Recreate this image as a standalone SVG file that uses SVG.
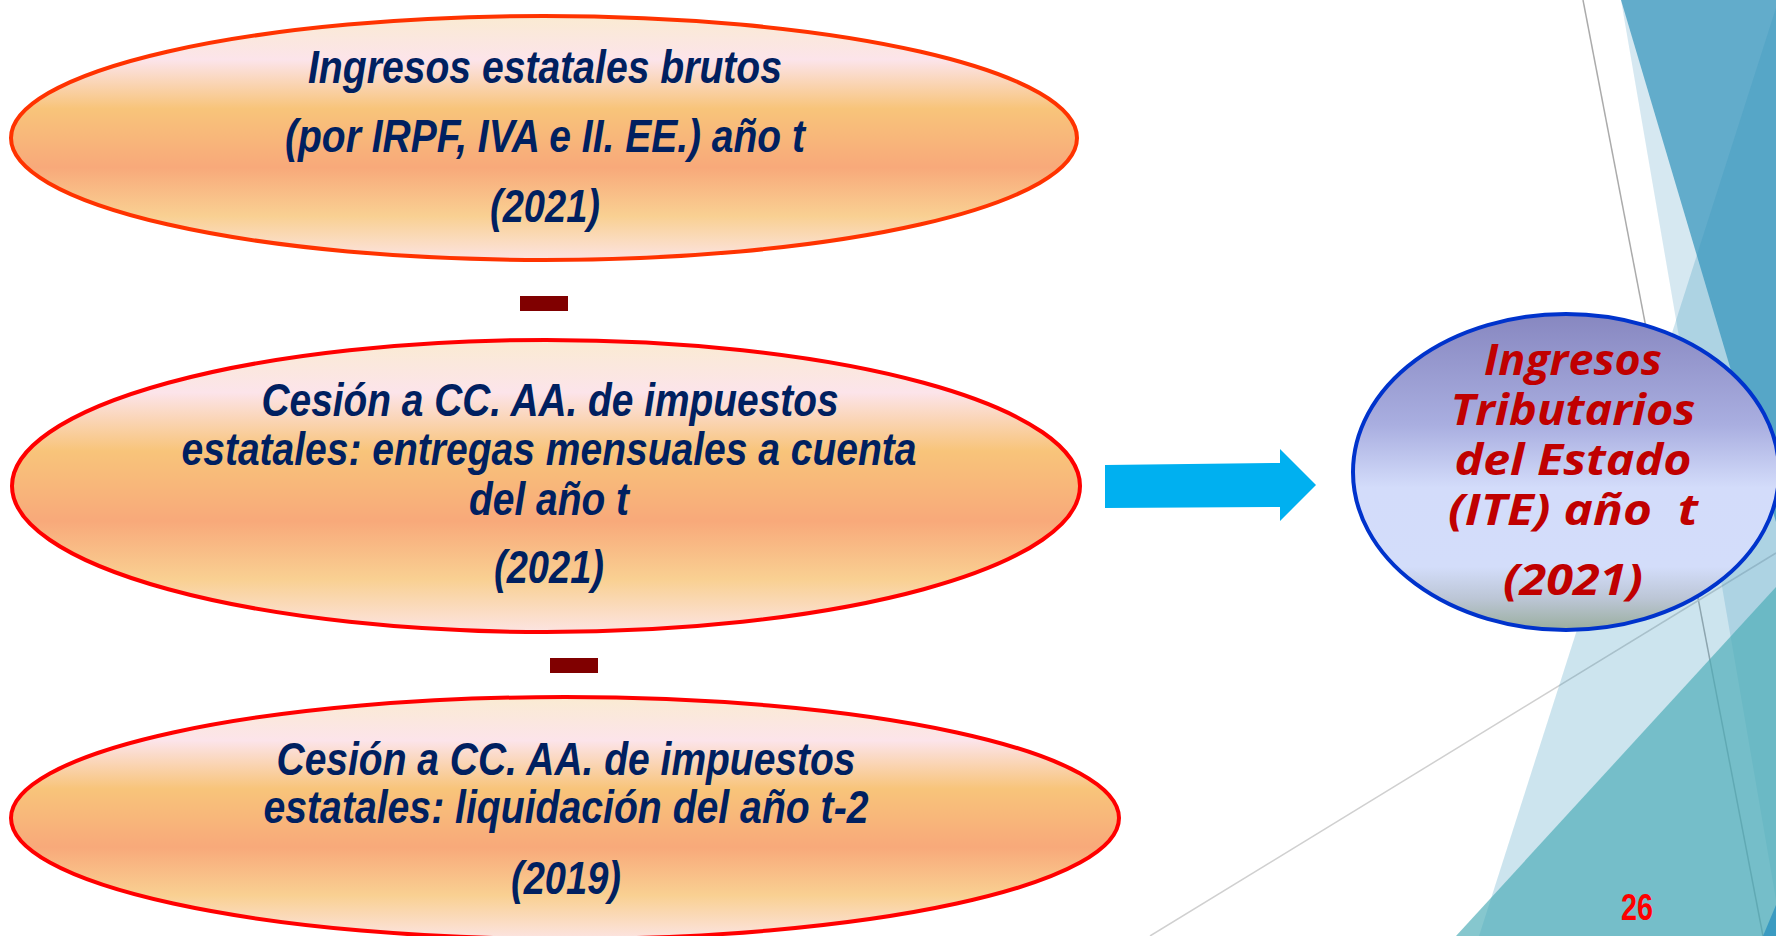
<svg xmlns="http://www.w3.org/2000/svg" width="1776" height="936" viewBox="0 0 1776 936">
  <defs>
    <linearGradient id="gOrange" x1="0" y1="0" x2="0" y2="1">
      <stop offset="0" stop-color="#FAEBD2"/>
      <stop offset="0.18" stop-color="#FCE4EA"/>
      <stop offset="0.38" stop-color="#F8C47A"/>
      <stop offset="0.62" stop-color="#F8A97A"/>
      <stop offset="0.82" stop-color="#F9D092"/>
      <stop offset="1" stop-color="#FCE4E2"/>
    </linearGradient>
    <linearGradient id="gBlue" x1="0" y1="0" x2="0" y2="1">
      <stop offset="0" stop-color="#8787C0"/>
      <stop offset="0.35" stop-color="#A9AEE0"/>
      <stop offset="0.55" stop-color="#D3DCFA"/>
      <stop offset="0.8" stop-color="#D3DDFA"/>
      <stop offset="0.9" stop-color="#BCC6D6"/>
      <stop offset="1" stop-color="#9AAE9E"/>
    </linearGradient>
    <style>
      .left { font-family: "Liberation Sans Narrow", "Liberation Sans", "Arial Narrow", Arial, sans-serif; font-weight: bold; font-style: italic; font-size: 46px; fill: #002060; text-anchor: middle; }
      .right { font-family: "Open Sans", "Noto Sans", "DejaVu Sans", sans-serif; font-weight: bold; font-style: italic; font-size: 43px; fill: #C00000; text-anchor: middle; }
      .oval { fill: url(#gOrange); stroke: #FF0000; stroke-width: 4; }
      .minus { fill: #800000; }
    </style>
  </defs>

  <g id="background">
    <rect x="0" y="0" width="1776" height="936" fill="#FFFFFF"/>
    <line x1="1583" y1="0" x2="1763" y2="936" stroke="#ABABAB" stroke-width="1.5"/>
    <line x1="1150" y1="936" x2="1776" y2="553" stroke="#D0D0D0" stroke-width="1.5"/>
    <polygon points="1621,0 1776,0 1776,900" fill="#5BA3C6" fill-opacity="0.25"/>
    <polygon points="1621,0 1776,0 1776,522" fill="#62ACCB"/>
    <polygon points="1776,8 1776,936 1479,936" fill="#3494BA" fill-opacity="0.25"/>
    <polygon points="1776,587 1776,936 1456,936" fill="#4AACB6" fill-opacity="0.67"/>
    <polygon points="1763,936 1776,936 1776,905" fill="#3B9BC1"/>
  </g>

  <g id="node-ingresos-brutos">
    <ellipse cx="544" cy="138" rx="533" ry="122" class="oval" style="stroke:#FF3300"/>
    <text class="left" x="545" y="83" textLength="474" lengthAdjust="spacingAndGlyphs">Ingresos estatales brutos</text>
    <text class="left" x="545" y="152" textLength="520" lengthAdjust="spacingAndGlyphs">(por IRPF, IVA e II. EE.) año t</text>
    <text class="left" x="545" y="222" textLength="110" lengthAdjust="spacingAndGlyphs">(2021)</text>
  </g>

  <g id="operator-minus-1">
    <rect x="520" y="296" width="48" height="15" class="minus"/>
  </g>

  <g id="node-cesion-entregas">
    <ellipse cx="546" cy="486" rx="534" ry="146" class="oval"/>
    <text class="left" x="550" y="416" textLength="577" lengthAdjust="spacingAndGlyphs">Cesión a CC. AA. de impuestos</text>
    <text class="left" x="549" y="465" textLength="735" lengthAdjust="spacingAndGlyphs">estatales: entregas mensuales a cuenta</text>
    <text class="left" x="549" y="515" textLength="160" lengthAdjust="spacingAndGlyphs">del año t</text>
    <text class="left" x="549" y="583" textLength="110" lengthAdjust="spacingAndGlyphs">(2021)</text>
  </g>

  <g id="operator-minus-2">
    <rect x="550" y="658" width="48" height="15" class="minus"/>
  </g>

  <g id="node-cesion-liquidacion">
    <ellipse cx="565" cy="818" rx="554" ry="121" class="oval"/>
    <text class="left" x="566" y="775" textLength="579" lengthAdjust="spacingAndGlyphs">Cesión a CC. AA. de impuestos</text>
    <text class="left" x="566" y="823" textLength="605" lengthAdjust="spacingAndGlyphs">estatales: liquidación del año t-2</text>
    <text class="left" x="566" y="894" textLength="110" lengthAdjust="spacingAndGlyphs">(2019)</text>
  </g>

  <g id="connectors">
    <polygon points="1105,465 1280,463 1280,449 1316,485 1280,521 1280,507 1105,508" fill="#00B0F0"/>
  </g>

  <g id="node-ite">
    <ellipse cx="1566" cy="472" rx="213" ry="158" fill="url(#gBlue)" stroke="#0033CC" stroke-width="4"/>
    <text class="right" x="1573" y="375" textLength="178" lengthAdjust="spacingAndGlyphs">Ingresos</text>
    <text class="right" x="1573" y="425" textLength="245" lengthAdjust="spacingAndGlyphs">Tributarios</text>
    <text class="right" x="1573" y="475" textLength="237" lengthAdjust="spacingAndGlyphs">del Estado</text>
    <text class="right" x="1573" y="525" textLength="250" lengthAdjust="spacingAndGlyphs" xml:space="preserve">(ITE) año  t</text>
    <text class="right" x="1573" y="595" textLength="140" lengthAdjust="spacingAndGlyphs">(2021)</text>
  </g>

  <g id="page-number">
    <text x="1637" y="920" text-anchor="middle" font-family="'Liberation Sans Narrow', 'Liberation Sans', Arial, sans-serif" font-weight="bold" font-size="37" fill="#FF0000" textLength="32" lengthAdjust="spacingAndGlyphs">26</text>
  </g>
</svg>
